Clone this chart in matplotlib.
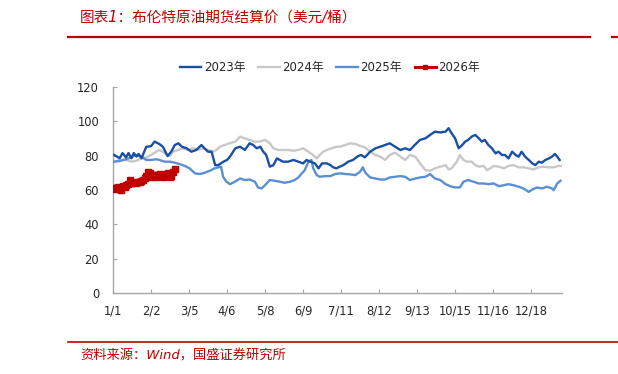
import matplotlib
matplotlib.use("Agg")
import matplotlib.pyplot as plt
from matplotlib.lines import Line2D

plt.rcParams['font.family'] = ['DejaVu Sans', 'Noto Sans CJK SC']

# ---- data: day index from 1/1 (leap-year calendar), Brent settle (USD/bbl) ----
days_2023 = [1, 5.6, 8, 11, 13, 15.5, 17.5, 19.7, 21.5, 24, 28, 32, 35, 39, 42, 46, 49, 52, 55, 58,
             62, 66, 70, 74.5, 77, 80, 83, 86, 88.5, 93, 96, 98, 103, 107, 111, 115, 118, 121, 124,
             126.5, 129, 132, 135, 138, 140.5, 143, 147.5, 152, 156, 160, 163, 166, 170, 173, 176,
             180, 183, 185.5, 188, 191, 194, 198, 202, 206.5, 209, 212, 216.5, 221, 225, 229, 233,
             237.5, 242, 246, 250, 254, 258.5, 263, 267, 271, 275.5, 280, 282.5, 285, 288, 291, 294,
             296.5, 299, 302, 305, 308, 310.5, 313, 316, 319, 322, 324.5, 327.5, 330, 333, 336, 339,
             341.5, 344, 347, 350, 353, 355.5, 358.5, 361, 364, 367, 369.5, 372, 374, 376]
vals_2023 = [80.4, 78.5, 81.5, 79, 81.5, 78.5, 81.5, 79.5, 81, 78.5, 85.2, 85.5, 88.2, 86.8, 85.2,
             79.8, 82.3, 86.2, 87.2, 85.2, 84.3, 82.3, 83.3, 86.2, 84.3, 82.3, 82.3, 74.5, 74.5, 76.5,
             77.5, 79, 84.3, 85.2, 83.3, 87.2, 86.2, 84.3, 85.2, 82.3, 80.4, 73.6, 74.5, 78.4, 77.5,
             76.5, 76.5, 77.5, 76.5, 75.5, 77.5, 76.5, 75.5, 72.6, 75.5, 75.5, 74.5, 73.2, 72.6, 73.6,
             74.5, 76.5, 77.5, 79.8, 80.4, 79, 82.3, 84.3, 85.2, 86.2, 87.2, 85.2, 83.3, 84.3, 83.3,
             86.2, 89.2, 90.1, 92.1, 94, 93.5, 94, 96, 93.1, 90.1, 84.3, 86.2, 88.2, 89.2, 91.1, 92.1,
             90.1, 88.2, 89.2, 86.2, 84.3, 81.4, 82.3, 80.4, 80.4, 78.4, 82.3, 80.4, 79.4, 82.3, 79.4,
             77.5, 75.5, 74.5, 76.5, 75.9, 77.5, 78.4, 79.4, 81, 79.4, 77.5]

days_2024 = [1, 5.6, 11, 15.5, 20, 24, 28, 32, 36.5, 39, 42, 45, 48, 50.5, 55, 59, 63, 67.5, 72,
             76, 80, 84, 87, 90, 94, 98, 103, 107, 111, 115, 119.5, 124, 128, 132, 135, 139, 143,
             147.5, 152, 156, 160, 164.5, 168.5, 171.5, 174, 177, 180, 184, 188, 191, 195.5, 199.5,
             204, 208, 212, 216.5, 221, 225, 229, 233, 237.5, 242, 246, 250, 254.5, 258.5, 263,
             267, 271, 275.5, 280, 282.5, 285, 289.5, 292, 295, 298, 302, 305, 308, 312, 315, 317.5,
             320.5, 325, 329, 333, 337, 341.5, 346, 350, 354, 358.5, 362.5, 367, 371, 375, 377]
vals_2024 = [76.5, 77.5, 77.5, 76.5, 77.1, 78.4, 79, 80.4, 82.3, 83.3, 82.3, 80.4, 79.8, 82.3, 83.3,
             84.3, 83.3, 84.3, 83.3, 84.3, 83.3, 82.3, 83.3, 85.2, 86.2, 87.2, 88.2, 91.1, 90.1, 89.2,
             88.2, 88.2, 89.2, 87.2, 84.3, 83.3, 83.3, 83.3, 82.9, 83.3, 84.3, 82.3, 80.4, 78.4, 80.4,
             82.3, 83.3, 84.3, 85.2, 85.2, 86.2, 87.2, 86.8, 85.7, 84.9, 82.3, 80.4, 79.4, 77.5, 80.4,
             81.8, 79.4, 77.5, 80.4, 79.4, 75.5, 71.6, 71.2, 72.6, 73.6, 74.5, 72, 72.6, 76.5, 80.4,
             77.5, 76.5, 76.5, 74.5, 73.6, 74, 71.6, 72.6, 74, 73.6, 72.6, 74, 74.5, 73.2, 73.2, 72.6,
             72, 73.2, 73.6, 73.2, 73.2, 74, 74]

days_2025 = [1, 5.6, 11, 15.5, 18.5, 24, 28, 32, 36.5, 39, 43.5, 48, 52, 56, 60.5, 64.5, 69, 73,
             77, 81.5, 85.5, 88.5, 91, 92.7, 95.5, 98.5, 102.5, 107, 111, 115, 119.5, 122, 125,
             128, 132, 136, 140.5, 144.5, 149, 153, 156, 159, 161.5, 164.5, 167, 168.6, 171.5, 174,
             178.5, 183, 187, 191, 195.5, 199.5, 204, 208, 210.3, 212.5, 216.5, 221, 225, 229, 233,
             237.5, 242, 246, 250, 254.5, 258.5, 263, 267, 271, 275.5, 280, 284, 288, 292, 295, 299,
             303.5, 308, 312, 316, 320.5, 325, 329, 333, 337, 341.5, 345.5, 350, 353, 357, 361,
             365.5, 369.5, 371, 374, 376.7]
vals_2025 = [76.5, 76.9, 77.9, 79, 80.4, 79.4, 77.5, 77.5, 77.9, 77.5, 76.5, 76.5, 75.9, 75.1, 74,
             72.6, 69.7, 69.3, 70, 71.2, 72.6, 73.2, 73.6, 67.7, 64.8, 63.4, 64.8, 66.7, 65.8, 66.1,
             64.8, 61.5, 60.9, 62.8, 65.8, 65.4, 64.8, 64.2, 64.8, 65.8, 67.3, 69.7, 71.6, 76.5,
             77.5, 72.6, 68.7, 67.7, 68.1, 68.1, 69.3, 69.7, 69.3, 69.1, 68.7, 70.6, 73.2, 70,
             67.3, 66.7, 66.1, 66.1, 67.3, 67.7, 68.1, 67.7, 65.8, 66.7, 67.3, 67.7, 69.3, 66.7,
             65.8, 63.4, 62.2, 61.5, 61.5, 64.8, 65.8, 64.8, 63.8, 63.8, 63.4, 63.8, 62.2, 62.8,
             63.4, 62.8, 61.9, 60.9, 58.9, 60.3, 61.5, 60.9, 61.9, 60.9, 59.9, 63.8, 65.4]

days_2026 = [0, 1.4, 2.8, 4.2, 5.6, 7, 8.4, 9.8, 11.2, 12.6, 14.1, 15.5, 16.9, 18.3, 19.7, 21.1,
             22.5, 23.9, 25.3, 26.7, 28.1, 29.5, 30.9, 32.3, 33.7, 35.1, 36.5, 37.9, 39.3, 40.8,
             42.2, 43.6, 45, 46.4, 47.8, 49.2, 50.6, 52]
vals_2026 = [60.9, 60.9, 60.3, 61.5, 60.9, 59.9, 62.2, 61.9, 62.8, 63.4, 65.8, 64.2, 63.8, 64.8,
             64.2, 64.8, 64.8, 65.4, 65.8, 66.7, 68.1, 70.6, 69.7, 67.3, 68.7, 68.7, 67.7, 68.7,
             69.3, 68.7, 67.7, 68.1, 69.1, 69.7, 67.7, 68.1, 70.6, 72]

tick_labels = ['1/1', '2/2', '3/5', '4/6', '5/8', '6/9', '7/11', '8/12', '9/13',
               '10/15', '11/16', '12/18']
series_names = ['2023年', '2024年', '2025年', '2026年']

c2023, c2024, c2025, c2026 = '#1A4FA3', '#C8C8C8', '#5B8FD4', '#C00000'
red = '#C00000'

fig = plt.figure(figsize=(6.18, 3.74), dpi=100)
ax = fig.add_axes([113 / 618, 1 - 293 / 374, (562 - 113) / 618, (293 - 87) / 374])

ax.plot(days_2024, vals_2024, color=c2024, lw=1.7, zorder=2)
ax.plot(days_2025, vals_2025, color=c2025, lw=1.7, zorder=3)
ax.plot(days_2023, vals_2023, color=c2023, lw=1.7, zorder=4)
ax.plot(days_2026, vals_2026, color=c2026, lw=2.2, marker='s', ms=4, mec=c2026, zorder=5)

ax.set_xlim(0, 378)
ax.set_ylim(0, 120)
ax.set_yticks(range(0, 121, 20))
ax.set_xticks([32 * i for i in range(len(tick_labels))])
ax.set_xticklabels(tick_labels)

for s in ['top', 'right']:
    ax.spines[s].set_visible(False)
for s in ['left', 'bottom']:
    ax.spines[s].set_color('#A6A6A6')
    ax.spines[s].set_linewidth(1)
ax.tick_params(axis='both', direction='in', length=3, width=0.8, color='#A6A6A6',
               labelsize=8.3, labelcolor='#262626')
ax.tick_params(axis='x', pad=8.5)
ax.tick_params(axis='y', pad=10)

handles = [Line2D([], [], color=c2023, lw=1.7),
           Line2D([], [], color=c2024, lw=1.7),
           Line2D([], [], color=c2025, lw=1.7),
           Line2D([], [], color=c2026, lw=2.2, marker='s', ms=3.5)]
fig.legend(handles, series_names, loc='center', bbox_to_anchor=(330 / 618, 1 - 68 / 374),
           ncol=4, frameon=False, fontsize=8.5, handlelength=1.8, handletextpad=0.2,
           columnspacing=1.1, labelcolor='#262626')

# header / footer decoration
fig.text(80 / 618, 1 - 17 / 374, '图表1：布伦特原油期货结算价（美元/桶）', color=red,
         fontsize=10.5, style='italic', va='center', ha='left')
fig.add_artist(Line2D([68 / 618, 590 / 618], [1 - 37 / 374] * 2, color=red, lw=1.6))
fig.add_artist(Line2D([612 / 618, 618 / 618], [1 - 37 / 374] * 2, color=red, lw=1.6))
fig.add_artist(Line2D([68 / 618, 618 / 618], [1 - 342 / 374] * 2, color=red, lw=1.2))
fig.text(80 / 618, 1 - 356 / 374, '资料来源：Wind，国盛证券研究所', color=red,
         fontsize=9.5, style='italic', va='center', ha='left')

fig.savefig('out.png', dpi=100)
